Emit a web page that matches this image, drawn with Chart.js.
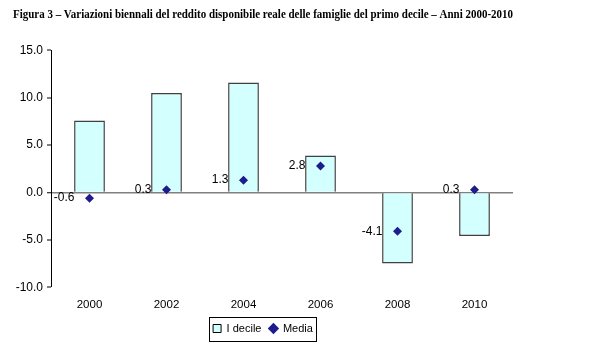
<!DOCTYPE html>
<html>
<head>
<meta charset="utf-8">
<script src="https://cdn.jsdelivr.net/npm/chart.js@4/dist/chart.umd.min.js"></script>
<style>
  html, body { margin: 0; padding: 0; background: #fff; }
  #wrap { width: 598px; height: 354px; }
</style>
</head>
<body>
<div id="wrap"><canvas id="chart" width="598" height="354"></canvas></div>
<script>
// data
const years = ["2000", "2002", "2004", "2006", "2008", "2010"];
const primoDecile = [7.6, 10.5, 11.6, 3.9, -7.5, -4.6];
const media = [-0.6, 0.3, 1.3, 2.8, -4.1, 0.3];
const yTicks = [-10, -5, 0, 5, 10, 15];

const titleText = "Figura 3 \u2013 Variazioni biennali del reddito disponibile reale delle famiglie del primo decile \u2013 Anni 2000-2010";
const sans = "'Liberation Sans', Arial, sans-serif";

// value labels to the left of the Media markers
const mediaLabels = {
  id: "mediaLabels",
  afterDatasetsDraw(chart) {
    const ctx = chart.ctx;
    const meta = chart.getDatasetMeta(1);
    ctx.save();
    ctx.font = "12px " + sans;
    ctx.fillStyle = "#000";
    ctx.textAlign = "right";
    ctx.textBaseline = "middle";
    meta.data.forEach((pt, i) => {
      ctx.fillText(media[i].toFixed(1), pt.x - 15, pt.y);
    });
    ctx.restore();
  }
};

// box round the legend
const legendFrame = {
  id: "legendFrame",
  afterDraw(chart) {
    const boxes = chart.legend.legendHitBoxes;
    if (!boxes || !boxes.length) return;
    const left = Math.min(...boxes.map(b => b.left)) - 4;
    const right = Math.max(...boxes.map(b => b.left + b.width)) + 3;
    const top = Math.min(...boxes.map(b => b.top)) - 6;
    const bottom = Math.max(...boxes.map(b => b.top + b.height)) + 7;
    const ctx = chart.ctx;
    ctx.save();
    ctx.strokeStyle = "#000";
    ctx.lineWidth = 1;
    ctx.strokeRect(Math.round(left) + 0.5, Math.round(top) + 0.5, Math.round(right - left), Math.round(bottom - top));
    ctx.restore();
  }
};

new Chart(document.getElementById("chart").getContext("2d"), {
  type: "bar",
  data: {
    labels: years,
    datasets: [
      {
        type: "bar",
        label: "I decile",
        data: primoDecile,
        backgroundColor: "#d4ffff",
        borderColor: "#404040",
        borderWidth: 1.5,
        barPercentage: 0.4,
        categoryPercentage: 1.0,
        order: 2
      },
      {
        type: "line",
        label: "Media",
        data: media,
        showLine: false,
        pointStyle: "rectRot",
        pointRadius: 4.5,
        backgroundColor: "#1c1c8c",
        borderColor: "#1c1c8c",
        borderWidth: 0,
        order: 1
      }
    ]
  },
  options: {
    responsive: false,
    animation: false,
    layout: { padding: { left: 13, right: 85, top: 8, bottom: 10 } },
    scales: {
      x: {
        grid: { display: false },
        border: { display: false },
        ticks: { color: "#000", font: { family: sans, size: 11.5 }, padding: 3 }
      },
      y: {
        min: -10,
        max: 15,
        afterBuildTicks(scale) {
          scale.ticks = yTicks.map(v => ({ value: v }));
        },
        afterFit(scale) { scale.width = 38; },
        border: { display: true, color: "#000", width: 1 },
        grid: {
          drawOnChartArea: true,
          color: ctx => (ctx.tick && ctx.tick.value === 0 ? "#808080" : "rgba(0,0,0,0)"),
          lineWidth: ctx => (ctx.tick && ctx.tick.value === 0 ? 1.5 : 0),
          tickColor: "#000",
          tickLength: 4,
          tickWidth: 1
        },
        ticks: {
          color: "#000",
          font: { family: sans, size: 12 },
          padding: 4,
          callback: v => Number(v).toFixed(1)
        }
      }
    },
    plugins: {
      title: {
        display: true,
        text: titleText,
        align: "start",
        color: "#000",
        font: { family: "'Liberation Serif', 'Times New Roman', serif", size: 12, weight: "bold" },
        padding: { top: 0, bottom: 28 }
      },
      legend: {
        position: "bottom",
        labels: {
          color: "#000",
          font: { family: sans, size: 11 },
          usePointStyle: true,
          boxWidth: 8,
          boxHeight: 8,
          padding: 8,
          generateLabels(chart) {
            const items = Chart.defaults.plugins.legend.labels.generateLabels(chart);
            items.forEach(it => {
              if (it.datasetIndex === 0) {
                it.pointStyle = "rect";
                it.lineWidth = 1;
                it.strokeStyle = "#000";
              } else {
                it.pointStyle = "rectRot";
              }
            });
            return items.sort((a, b) => a.datasetIndex - b.datasetIndex);
          }
        }
      },
      tooltip: { enabled: false }
    }
  },
  plugins: [mediaLabels, legendFrame]
});
</script>
</body>
</html>
